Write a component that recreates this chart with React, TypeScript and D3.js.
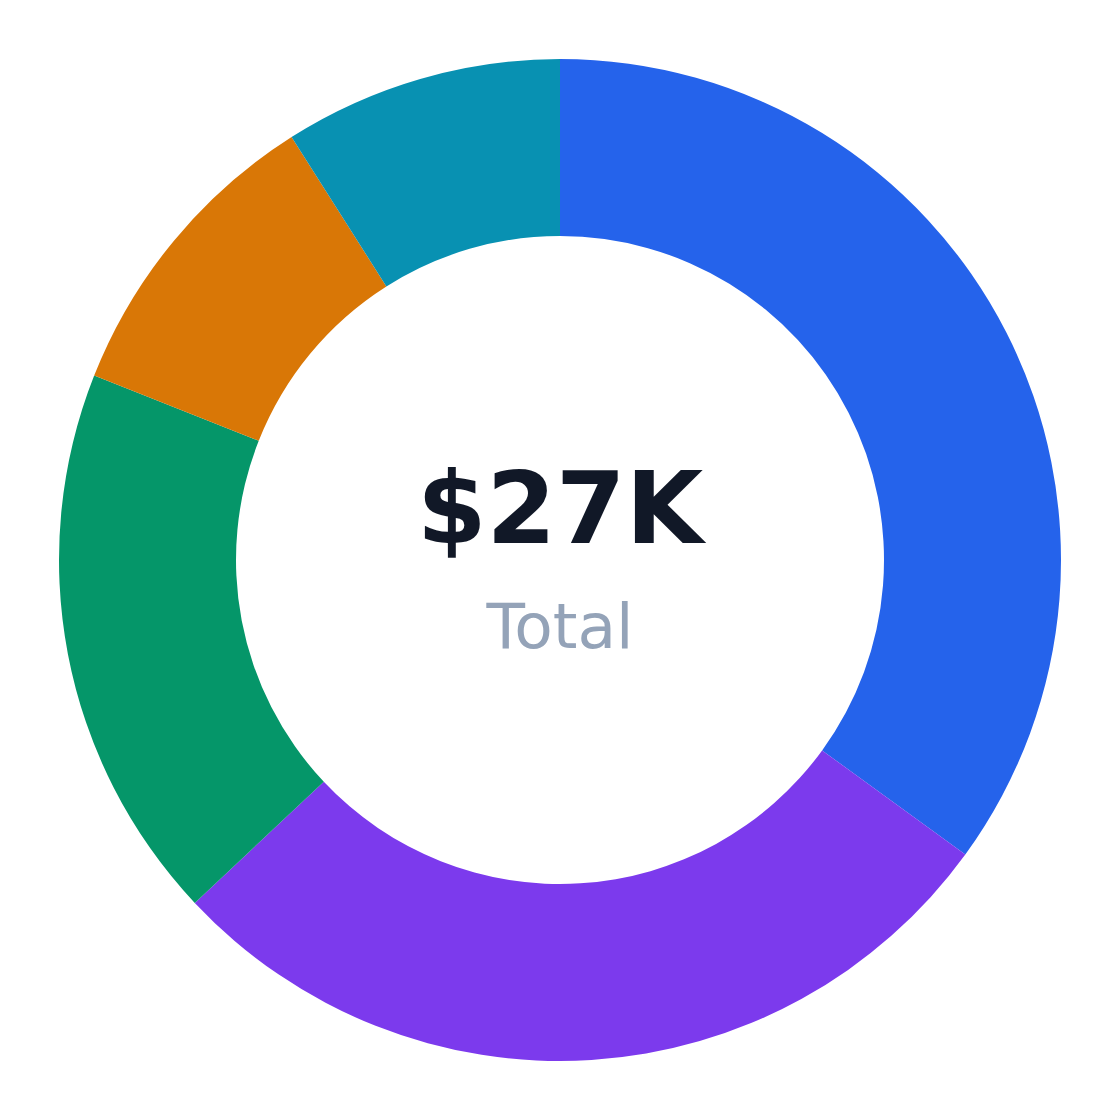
import { select, pie, arc, sum, PieArcDatum } from "d3";
import React, { useEffect, useRef } from "react";

// 카테고리별 금액
const categories = ["Product", "Services", "Licensing", "Support", "Other"];
const amounts = [9450, 7560, 4860, 2700, 2430];
const colors = ["#2563eb", "#7c3aed", "#059669", "#d97706", "#0891b2"];
const centerLabel = "Total";

type Slice = { category: string; amount: number; color: string };

const slices: Slice[] = categories.map((c, i) => ({
  category: c,
  amount: amounts[i],
  color: colors[i],
}));

const DonutChart = () => {
  const chartRef = useRef<SVGSVGElement>(null);

  useEffect(() => {
    if (!chartRef.current) return;
    const svg = select(chartRef.current);
    svg.selectAll("*").remove();

    // 영역 크기 설정
    const width = 1104;
    const height = 1104;
    const outerRadius = 501;
    const innerRadius = 324;

    const g = svg
      .append("g")
      .attr("transform", `translate(${width / 2},${height / 2})`);

    const pieGen = pie<Slice>()
      .value((d) => d.amount)
      .sort(null);

    const arcGen = arc<PieArcDatum<Slice>>()
      .innerRadius(innerRadius)
      .outerRadius(outerRadius);

    // 조각 생성
    g.selectAll(".slice")
      .data(pieGen(slices))
      .enter()
      .append("path")
      .attr("class", "slice")
      .attr("fill", (d) => d.data.color)
      .attr("d", arcGen);

    const total = sum(amounts);

    // 가운데 텍스트
    g.append("text")
      .attr("text-anchor", "middle")
      .attr("y", -17)
      .attr("font-family", "DejaVu Sans")
      .attr("font-weight", "bold")
      .attr("font-size", 100)
      .attr("fill", "#111827")
      .text(`$${Math.round(total / 1000)}K`);

    g.append("text")
      .attr("text-anchor", "middle")
      .attr("y", 88)
      .attr("font-family", "DejaVu Sans")
      .attr("font-size", 63)
      .attr("fill", "#94a3b8")
      .text(centerLabel);
  }, []);

  return (
    <svg
      ref={chartRef}
      width={1104}
      height={1104}
      style={{ display: "block" }}
    ></svg>
  );
};

export default function App() {
  return <DonutChart />;
}
